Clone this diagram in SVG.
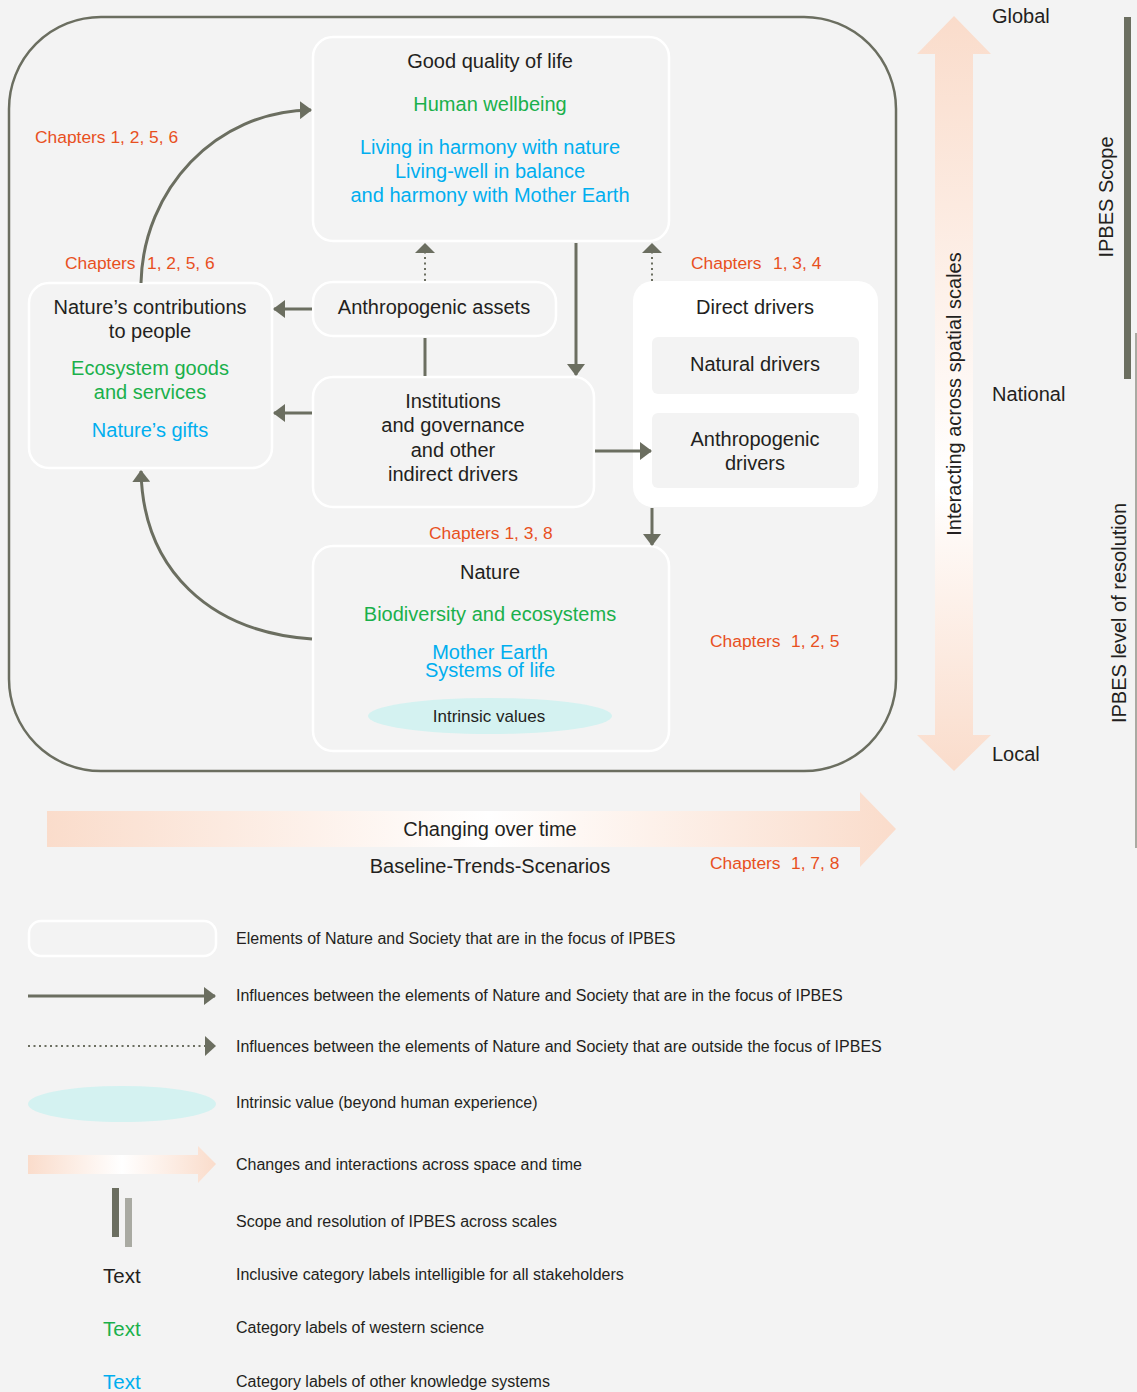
<svg xmlns="http://www.w3.org/2000/svg" width="1137" height="1392" viewBox="0 0 1137 1392">
<style>
text{font-family:"Liberation Sans",Arial,sans-serif;fill:#231f20;white-space:pre}
.m{font-size:20px;text-anchor:middle}
.g{fill:#1ab04b}
.b{fill:#00aeef}
.o{font-size:17.4px;fill:#e8501e}
.l{font-size:16px}
.box{fill:none;stroke:#ffffff;stroke-width:2.5}
.c{fill:none;stroke:#6b6e60;stroke-width:3}
.d{fill:none;stroke:#6b6e60;stroke-width:2;stroke-dasharray:2 3.5}
</style>
<defs>
<marker id="ah" viewBox="0 0 12 18" refX="11" refY="9" markerWidth="12" markerHeight="18" markerUnits="userSpaceOnUse" orient="auto">
<path d="M0,0 L12,9 L0,18 z" fill="#6b6e60"/>
</marker>
<linearGradient id="gh" x1="47" y1="0" x2="896" y2="0" gradientUnits="userSpaceOnUse">
<stop offset="0" stop-color="#fadccb"/><stop offset="0.52" stop-color="#ffffff"/><stop offset="1" stop-color="#fadccb"/>
</linearGradient>
<linearGradient id="gv" x1="0" y1="17" x2="0" y2="771" gradientUnits="userSpaceOnUse">
<stop offset="0" stop-color="#fadccb"/><stop offset="0.62" stop-color="#ffffff"/><stop offset="1" stop-color="#fadccb"/>
</linearGradient>
<linearGradient id="gl" x1="28" y1="0" x2="216" y2="0" gradientUnits="userSpaceOnUse">
<stop offset="0" stop-color="#fadccb"/><stop offset="0.5" stop-color="#ffffff"/><stop offset="1" stop-color="#fadccb"/>
</linearGradient>
</defs>
<rect width="1137" height="1392" fill="#f3f3f3"/>

<g id="frame">
<rect x="9" y="17" width="887" height="754" rx="92" ry="92" fill="none" stroke="#6b6e60" stroke-width="2.5"/>
</g>

<g id="scale-arrows">
<path d="M47,811 L860,811 L860,792 L896,829 L860,867 L860,847 L47,847 z" fill="url(#gh)"/>
<path d="M935,54 L917,54 L954,16 L991,54 L973,54 L973,735 L991,735 L954,771 L917,735 L935,735 z" fill="url(#gv)"/>
<rect x="1124" y="17" width="7" height="362" fill="#6b6e60"/>
<rect x="1135" y="333" width="7" height="515" fill="#a9aaa2"/>
</g>

<g id="node-quality">
<rect class="box" x="313" y="37" width="356" height="204" rx="20"/>
<text class="m" x="490" y="68">Good quality of life</text>
<text class="m g" x="490" y="111">Human wellbeing</text>
<text class="m b" x="490" y="154">Living in harmony with nature</text>
<text class="m b" x="490" y="178">Living-well in balance</text>
<text class="m b" x="490" y="202">and harmony with Mother Earth</text>
</g>

<g id="node-ncp">
<rect class="box" x="29" y="283" width="243" height="185" rx="20"/>
<text class="m" x="150" y="314">Nature’s contributions</text>
<text class="m" x="150" y="338">to people</text>
<text class="m g" x="150" y="375">Ecosystem goods</text>
<text class="m g" x="150" y="399">and services</text>
<text class="m b" x="150" y="437">Nature’s gifts</text>
</g>

<g id="node-assets">
<rect class="box" x="313" y="282" width="243" height="54" rx="20"/>
<text class="m" x="434" y="314">Anthropogenic assets</text>
</g>

<g id="node-institutions">
<rect class="box" x="313" y="377" width="281" height="130" rx="20"/>
<text class="m" x="453" y="408">Institutions</text>
<text class="m" x="453" y="432">and governance</text>
<text class="m" x="453" y="457">and other</text>
<text class="m" x="453" y="481">indirect drivers</text>
</g>

<g id="node-direct">
<rect x="633" y="281" width="245" height="226" rx="20" fill="#ffffff"/>
<text class="m" x="755" y="314">Direct drivers</text>
<rect x="652" y="337" width="207" height="57" rx="6" fill="#f3f3f3"/>
<text class="m" x="755" y="371">Natural drivers</text>
<rect x="652" y="413" width="207" height="75" rx="6" fill="#f3f3f3"/>
<text class="m" x="755" y="446">Anthropogenic</text>
<text class="m" x="755" y="470">drivers</text>
</g>

<g id="node-nature">
<rect class="box" x="313" y="546" width="356" height="205" rx="20"/>
<text class="m" x="490" y="579">Nature</text>
<text class="m g" x="490" y="621">Biodiversity and ecosystems</text>
<text class="m b" x="490" y="659">Mother Earth</text>
<text class="m b" x="490" y="677">Systems of life</text>
<ellipse cx="490" cy="716" rx="122" ry="18" fill="#d4f2f1"/>
<text x="489" y="722" style="font-size:17px;text-anchor:middle">Intrinsic values</text>
</g>

<g id="connectors">
<path class="c" d="M141,283 C143,190 215,111 311,110" marker-end="url(#ah)"/>
<path class="c" d="M312,639 C210,632 143,570 141,471" marker-end="url(#ah)"/>
<path class="c" d="M312,309 L274,309" marker-end="url(#ah)"/>
<path class="c" d="M312,413 L274,413" marker-end="url(#ah)"/>
<path class="c" d="M425,338 L425,376"/>
<path class="d" d="M425,281 L425,252"/>
<path d="M415,253 L425,243 L435,253 z" fill="#6b6e60"/>
<path class="d" d="M652,281 L652,252"/>
<path d="M642,253 L652,243 L662,253 z" fill="#6b6e60"/>
<path class="c" d="M576,243 L576,375" marker-end="url(#ah)"/>
<path class="c" d="M595,451 L651,451" marker-end="url(#ah)"/>
<path class="c" d="M652,508 L652,545" marker-end="url(#ah)"/>
</g>

<g id="chapters">
<text class="o" x="35" y="143">Chapters 1, 2, 5, 6</text>
<text class="o" y="269"><tspan x="65">Chapters</tspan><tspan x="147">1, 2, 5, 6</tspan></text>
<text class="o" y="269"><tspan x="691">Chapters</tspan><tspan x="773">1, 3, 4</tspan></text>
<text class="o" x="429" y="539">Chapters 1, 3, 8</text>
<text class="o" y="647"><tspan x="710">Chapters</tspan><tspan x="791">1, 2, 5</tspan></text>
<text class="o" y="869"><tspan x="710">Chapters</tspan><tspan x="791">1, 7, 8</tspan></text>
</g>

<g id="scale-labels">
<text class="m" x="490" y="836">Changing over time</text>
<text class="m" x="490" y="873">Baseline-Trends-Scenarios</text>
<text class="m" x="961" y="394" transform="rotate(-90 961 394)">Interacting across spatial scales</text>
<text x="992" y="23" style="font-size:20px">Global</text>
<text x="992" y="401" style="font-size:20px">National</text>
<text x="992" y="761" style="font-size:20px">Local</text>
<text class="m" x="1113" y="197" transform="rotate(-90 1113 197)">IPBES Scope</text>
<text class="m" x="1126" y="613" transform="rotate(-90 1126 613)">IPBES level of resolution</text>
</g>

<g id="legend">
<rect class="box" x="29" y="921" width="187" height="35" rx="12"/>
<text class="l" x="236" y="944">Elements of Nature and Society that are in the focus of IPBES</text>
<path class="c" d="M28,996 L215,996" marker-end="url(#ah)"/>
<text class="l" x="236" y="1001">Influences between the elements of Nature and Society that are in the focus of IPBES</text>
<path class="d" d="M28,1046 L205,1046"/>
<path d="M205,1036 L216,1046 L205,1056 z" fill="#6b6e60"/>
<text class="l" x="236" y="1052">Influences between the elements of Nature and Society that are outside the focus of IPBES</text>
<ellipse cx="122" cy="1104" rx="94" ry="18" fill="#d4f2f1"/>
<text class="l" x="236" y="1108">Intrinsic value (beyond human experience)</text>
<path d="M28,1155 L198,1155 L198,1146 L216,1164 L198,1183 L198,1174 L28,1174 z" fill="url(#gl)"/>
<text class="l" x="236" y="1170">Changes and interactions across space and time</text>
<rect x="112" y="1188" width="7" height="49" fill="#6b6e60"/>
<rect x="125" y="1198" width="7" height="49" fill="#a9aaa2"/>
<text class="l" x="236" y="1227">Scope and resolution of IPBES across scales</text>
<text x="103" y="1283" style="font-size:20.5px">Text</text>
<text class="l" x="236" y="1280">Inclusive category labels intelligible for all stakeholders</text>
<text x="103" y="1336" style="font-size:20.5px" class="g">Text</text>
<text class="l" x="236" y="1333">Category labels of western science</text>
<text x="103" y="1389" style="font-size:20.5px" class="b">Text</text>
<text class="l" x="236" y="1387">Category labels of other knowledge systems</text>
</g>
</svg>
